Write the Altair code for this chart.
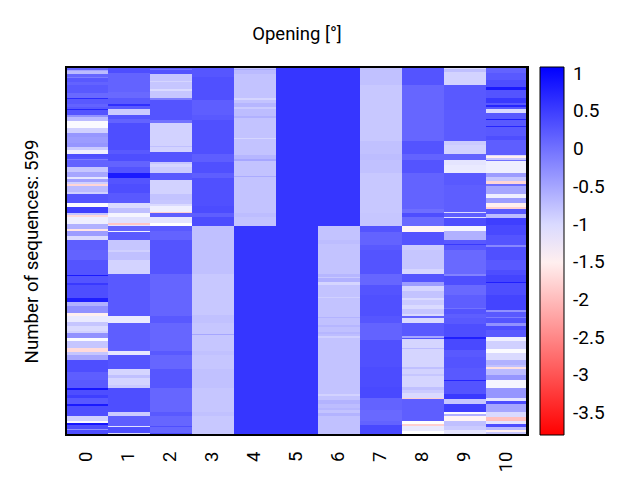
import altair as alt
import pandas as pd

# Each column: (end position down the stack, value)
col0 = [(3,.2),(4,-.5),(7,-.7),(10,.17),(11,-.1),(15,.3),(18,.2),(26,.3),(31,.15),(32,.75),(37,.3),(40,.2),(42,.3),(43,.8),(48,.35),(50,-.3),(54,-.7),(61,-1.3),(66,-.9),(70,-.35),(76,-.4),(80,-.35),(83,-.85),(87,-1.2),(90,.4),(92,.35),(93,-.1),(100,.2),(105,-.8),(110,-.5),(112,-1.1),(115,-.45),(117,-.9),(119,-1.75),(125,-.7),(127,-.9),(136,.35),(140,-1.3),(146,.55),(148,-.8),(150,-1.7),(157,-1.2),(162,-.6),(164,-1.6),(169,-.4),(173,-1.0),(183,.25),(193,.2),(208,.35),(209,.9),(216,.35),(218,.6),(231,.4),(235,.85),(239,-.6),(246,-.3),(249,-1.5),(255,-1.15),(259,-.8),(264,-1.0),(266,-.9),(271,-.3),(274,-1.3),(281,-.8),(285,-1.7),(288,-.8),(293,-.5),(305,.4),(313,.25),(321,.3),(323,.95),(328,.4),(331,.55),(337,.3),(339,.9),(349,.4),(354,-.9),(356,-1.3),(358,.95),(362,.4),(363,-.3),(368,.4)]
col1 = [(6,.4),(25,.2),(31,.15),(37,.3),(39,.7),(42,.3),(48,-.85),(52,.35),(56,.2),(83,.4),(87,.3),(94,.4),(100,.2),(106,.35),(111,.9),(117,.35),(126,.4),(136,.3),(141,-1.0),(146,-.75),(150,-1.25),(156,-1.05),(158,-1.9),(159,-1.1),(164,.2),(165,-1.2),(173,.3),(183,-.8),(185,-.9),(193,-.75),(207,-.93),(249,.3),(256,-1.15),(284,.25),(288,-1.1),(302,.35),(308,-.95),(311,-.75),(318,-.95),(321,-.85),(345,.4),(349,-.85),(359,.25),(360,-1.05),(366,.4),(368,-1.0)]
col2 = [(2,.3),(3,.1),(7,.35),(14,-.8),(15,-.95),(22,-.8),(24,-1.0),(31,-.8),(33,-.1),(53,.35),(56,.05),(79,-.92),(80,-.75),(85,-.92),(95,.35),(97,-.8),(100,-.95),(106,-.85),(113,.3),(127,-.92),(133,-.78),(137,-.8),(139,-1.0),(145,-1.2),(146,-1.8),(150,.25),(156,-1.1),(159,-1.35),(164,.3),(173,.2),(207,.35),(249,.18),(256,.3),(284,.17),(288,.3),(302,.17),(321,.33),(345,.17),(349,.3),(359,.17),(360,.4),(366,.17),(368,.4)]
col3 = [(10,.33),(33,.38),(48,.25),(53,.3),(87,.38),(95,.25),(106,.38),(111,.25),(139,.38),(146,.42),(150,.25),(159,.42),(207,-.75),(248,-.82),(256,-.76),(267,-.8),(268,-.5),(284,-.8),(288,-.76),(302,-.8),(321,-.76),(345,-.8),(349,-.76),(368,-.82)]
col4 = [(2,-.78),(3,-.55),(7,-.7),(31,-.78),(33,-.95),(36,-.78),(40,-.65),(42,-.85),(49,-.72),(51,-.6),(71,-.78),(72,-.95),(88,-.78),(92,-.65),(94,-.5),(109,-.78),(110,-.55),(146,-.78),(150,-.72),(159,-.78),(368,.63)]
col5 = [(368,.63)]
col6 = [(159,.63),(173,-.78),(177,-.72),(207,-.78),(210,-.65),(211,-.82),(215,-.6),(218,-.95),(230,-.78),(231,-.9),(250,-.78),(251,-.62),(258,-.76),(260,-.65),(265,-.75),(267,-.65),(269,-.72),(271,-.9),(327,-.78),(329,-.92),(333,-.78),(337,-.62),(341,-.72),(343,-.65),(346,-.78),(349,-.62),(368,-.76)]
col7 = [(18,-.76),(74,-.82),(87,-.76),(93,-.72),(106,-.76),(146,-.82),(159,-.8),(165,.35),(178,.2),(183,.3),(207,.35),(218,.17),(228,.35),(249,.38),(256,.33),(273,.2),(300,.38),(320,.42),(331,.45),(343,.2),(354,.15),(358,.2),(368,.45)]
col8 = [(18,.35),(74,.17),(87,.35),(93,.2),(106,.35),(142,.2),(146,.1),(150,.4),(159,.15),(165,-1.45),(178,.35),(183,-.85),(202,-.8),(207,-.95),(215,.35),(219,-.4),(224,-.95),(231,-.78),(233,-1.0),(238,-.85),(242,-1.0),(247,-.8),(249,-1.0),(251,.2),(256,-1.0),(269,.3),(271,-.5),(272,.35),(281,-.95),(282,-.7),(300,-.95),(302,-.75),(307,-.92),(309,-.8),(320,-.95),(323,-.75),(326,-.85),(331,-1.0),(332,-1.8),(354,.25),(357,-1.35),(359,-1.8),(364,-1.15),(368,-1.35)]
col9 = [(2,-1.0),(5,-.75),(18,-.93),(43,.3),(74,.28),(78,-.85),(87,-.92),(93,.2),(98,-1.1),(106,-1.15),(118,.3),(145,.25),(146,-1.0),(150,.25),(151,-1.05),(159,.4),(164,-1.25),(173,-.6),(177,.3),(178,.6),(183,.3),(207,.15),(209,-.15),(218,.4),(228,.15),(241,.25),(242,0),(247,.35),(251,.25),(257,.3),(270,.4),(272,.85),(283,.45),(290,.3),(301,.35),(313,.3),(314,.8),(327,.35),(332,.6),(337,-.8),(345,.55),(347,-1.3),(349,-.6),(354,-1.45),(359,-.75),(363,-.85),(368,-1.1)]
col10 = [(6,.2),(13,.3),(20,.4),(23,.9),(31,.35),(36,.6),(38,.3),(40,.8),(42,.3),(46,-1.0),(52,.3),(53,.85),(59,.3),(60,.8),(69,.3),(73,.4),(88,.25),(89,-1.0),(91,-1.5),(93,-.8),(94,0),(106,-1.2),(110,-.4),(114,-.8),(117,-1.75),(119,.1),(127,-.5),(131,-1.2),(136,-.4),(140,-1.5),(142,-1.8),(147,.3),(151,-.7),(158,.55),(168,.45),(178,.35),(180,-.2),(193,.38),(203,.3),(208,.4),(215,.5),(216,.85),(228,.4),(243,.5),(245,-.3),(250,.3),(251,-.1),(256,.35),(259,-.3),(263,.4),(270,.3),(274,-1.2),(282,-.9),(286,-1.3),(293,-1.0),(298,-.6),(300,-.75),(302,-1.65),(308,-.7),(313,-.35),(321,-1.25),(331,-.35),(334,-1.1),(337,.4),(345,-.5),(350,-1.0),(354,-1.95),(357,-1.1),(360,.4),(363,-.7),(365,-1.5),(368,-.8)]

columns = [col0, col1, col2, col3, col4, col5, col6, col7, col8, col9, col10]
column_labels = [str(i) for i in range(11)]
legend_ticks = [1, 0.5, 0, -0.5, -1, -1.5, -2, -2.5, -3, -3.5]
title_text = "Opening [°]"
ylabel_text = "Number of sequences: 599"
BLUE_READ_OFFSET = -0.06  # colour-reading calibration for the saturated readings

rows = []
for name, runs in zip(column_labels, columns):
    start = 0
    for end, v in runs:
        rows.append({"pos": name, "start": start, "end": end,
                     "value": v + BLUE_READ_OFFSET if v > 0 else v})
        start = end
df = pd.DataFrame(rows)

FONT = "Roboto"
color_scale = alt.Scale(domain=[-3.79, -1.35, 1.09], interpolate="rgb",
                        range=["#ff0000", "#ffffff", "#0000ff"])

heat = alt.Chart(df).mark_rect().encode(
    x=alt.X("pos:N", sort=column_labels, scale=alt.Scale(paddingInner=0, paddingOuter=0),
            axis=alt.Axis(title=None, labelAngle=-90, ticks=False, domain=False,
                          labelPadding=16, labelFontSize=18.5, labelColor="black", labelOffset=-1,
                          labelFont=FONT, labelAlign="right", labelBaseline="middle")),
    y=alt.Y("start:Q", scale=alt.Scale(domain=[0, 368], reverse=True, nice=False, zero=False),
            axis=alt.Axis(title=ylabel_text, labels=False, ticks=False, domain=False, grid=False,
                          titleFont=FONT, titleFontSize=18.7, titleFontWeight="normal",
                          titleColor="black", titlePadding=25)),
    y2="end:Q",
    color=alt.Color("value:Q", scale=color_scale,
                    legend=alt.Legend(title=None, orient="none", legendX=474, legendY=0,
                                      gradientLength=368, gradientThickness=24,
                                      gradientStrokeColor="black", gradientStrokeWidth=1,
                                      values=legend_ticks, labelExpr="'' + datum.value",
                                      labelOverlap=False,
                                      labelFont=FONT, labelFontSize=19, labelColor="black",
                                      labelOffset=9)),
)

frame = alt.Chart(df).mark_rect(fillOpacity=0, stroke="black", strokeWidth=1.2).encode(
    x=alt.value(0), x2=alt.value(461.5), y=alt.value(0), y2=alt.value(368)
)

chart = alt.layer(heat, frame).properties(
    width=462, height=368,
    title=alt.TitleParams(title_text, font=FONT, fontSize=18.5, fontWeight="normal",
                          color="black", anchor="middle", offset=23),
    padding={"left": 58, "top": 59, "right": 101, "bottom": 37},
    autosize=alt.AutoSizeParams(type="none"),
).configure_view(stroke=None)

chart.save("out.html", embed_options={"renderer": "svg", "actions": False})
